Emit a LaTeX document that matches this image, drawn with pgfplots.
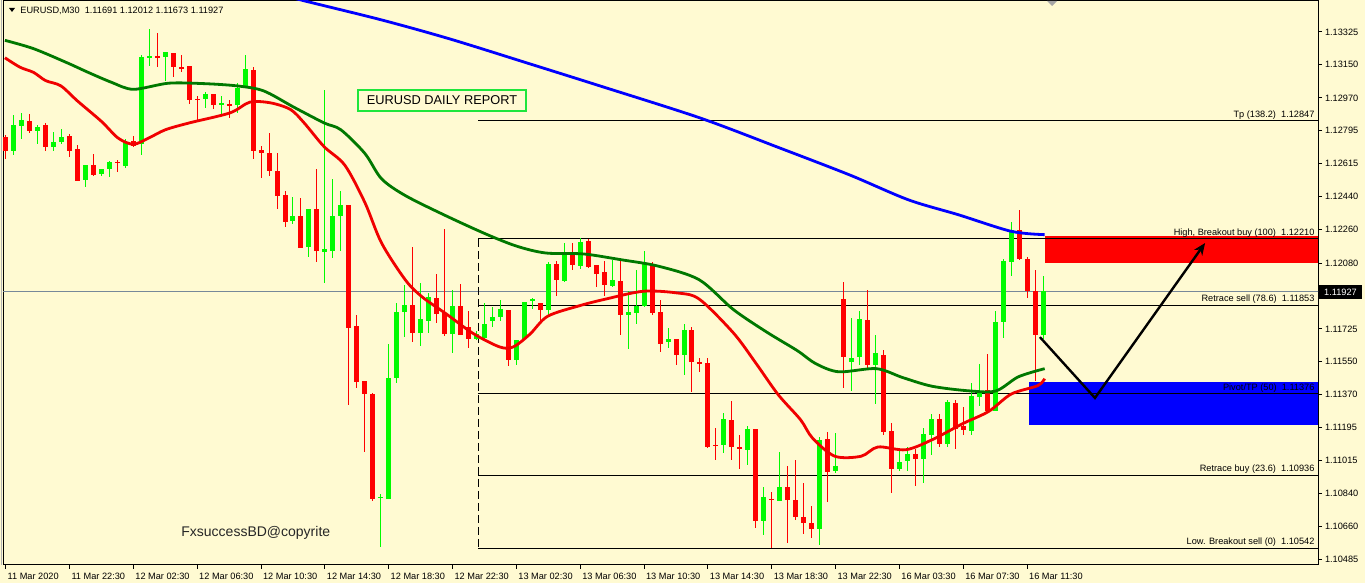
\documentclass[border=0pt]{standalone}
\usepackage{pgfplots}
\pgfplotsset{compat=1.18}
\usepackage{pgfplotstable}
\usepackage{fontspec}
\setmainfont{Liberation Sans}
\usetikzlibrary{arrows.meta}

\definecolor{bgcol}{RGB}{255,250,210}
\definecolor{upcol}{RGB}{0,250,0}
\definecolor{dncol}{RGB}{255,0,0}
\definecolor{magreen}{RGB}{0,120,0}
\definecolor{mared}{RGB}{240,0,0}
\definecolor{mablue}{RGB}{0,0,255}
\definecolor{pricegray}{RGB}{119,136,153}
\definecolor{boxgreen}{RGB}{30,230,60}

% bar index, open, high, low, close (EURUSD M30)
\pgfplotstableread{
i o h l c
1 1.12683 1.12880 1.12665 1.12822
2 1.12820 1.12889 1.12749 1.12849
4 1.12794 1.12826 1.12720 1.12816
6 1.12707 1.12789 1.12683 1.12731
7 1.12731 1.12803 1.12720 1.12758
10 1.12525 1.12607 1.12492 1.12607
12 1.12558 1.12589 1.12549 1.12589
13 1.12589 1.12629 1.12542 1.12625
15 1.12604 1.12749 1.12594 1.12734
17 1.12720 1.13202 1.12665 1.13193
18 1.13189 1.13341 1.13144 1.13195
20 1.13189 1.13215 1.13063 1.13215
25 1.12966 1.13002 1.12917 1.12993
27 1.12934 1.12980 1.12884 1.12942
29 1.12931 1.13053 1.12889 1.13025
30 1.13025 1.13202 1.13025 1.13126
36 1.12307 1.12438 1.12292 1.12334
38 1.12170 1.12374 1.12115 1.12374
40 1.12143 1.13013 1.11975 1.12155
41 1.12147 1.12534 1.12106 1.12334
42 1.12334 1.12470 1.12147 1.12392
47 1.10814 1.10835 1.10550 1.10822
48 1.10810 1.11647 1.10810 1.11464
49 1.11460 1.11864 1.11433 1.11818
50 1.11815 1.11961 1.11682 1.11855
52 1.11702 1.11974 1.11633 1.11778
53 1.11769 1.11919 1.11706 1.11897
56 1.11700 1.11933 1.11596 1.11848
59 1.11673 1.11715 1.11669 1.11697
60 1.11678 1.11864 1.11669 1.11751
61 1.11766 1.11842 1.11736 1.11788
62 1.11788 1.11882 1.11769 1.11830
64 1.11560 1.11669 1.11533 1.11669
65 1.11669 1.11870 1.11669 1.11870
66 1.11879 1.11891 1.11832 1.11885
68 1.11829 1.12089 1.11793 1.12077
70 1.11987 1.12190 1.11980 1.12134
72 1.12068 1.12215 1.12050 1.12193
76 1.11960 1.12098 1.11955 1.11990
78 1.11802 1.11928 1.11618 1.11816
79 1.11811 1.12044 1.11753 1.11850
80 1.11850 1.12147 1.11845 1.12077
83 1.11653 1.11730 1.11623 1.11671
85 1.11586 1.11751 1.11478 1.11721
90 1.11098 1.11272 1.11056 1.11241
93 1.11071 1.11200 1.10990 1.11187
95 1.10688 1.10877 1.10616 1.10818
97 1.10799 1.11063 1.10799 1.10873
102 1.10647 1.11142 1.10562 1.11128
104 1.10958 1.11164 1.10949 1.10988
106 1.11551 1.11784 1.11394 1.11572
107 1.11572 1.11825 1.11529 1.11780
109 1.11532 1.11694 1.11320 1.11595
112 1.10970 1.11079 1.10958 1.11008
113 1.11012 1.11092 1.10958 1.11053
115 1.11024 1.11191 1.10898 1.11160
116 1.11155 1.11270 1.11047 1.11241
118 1.11104 1.11344 1.11092 1.11335
121 1.11173 1.11437 1.11155 1.11362
122 1.11358 1.11538 1.11311 1.11380
124 1.11286 1.11820 1.11281 1.11766
125 1.11761 1.12102 1.11678 1.12093
126 1.12089 1.12299 1.12012 1.12260
130 1.11691 1.12012 1.11673 1.11927
}\bull

\pgfplotstableread{
i o h l c
0 1.12761 1.12771 1.12643 1.12683
3 1.12849 1.12884 1.12780 1.12794
5 1.12822 1.12835 1.12683 1.12707
8 1.12765 1.12776 1.12653 1.12683
9 1.12694 1.12716 1.12525 1.12525
11 1.12607 1.12667 1.12549 1.12552
14 1.12625 1.12638 1.12571 1.12620
16 1.12740 1.12765 1.12707 1.12712
19 1.13195 1.13322 1.13135 1.13189
21 1.13215 1.13215 1.13081 1.13135
22 1.13135 1.13202 1.13108 1.13130
23 1.13139 1.13139 1.12938 1.12960
24 1.12966 1.12980 1.12852 1.12960
26 1.12989 1.12993 1.12913 1.12934
28 1.12938 1.12956 1.12862 1.12931
31 1.13120 1.13135 1.12643 1.12685
32 1.12689 1.12712 1.12538 1.12676
33 1.12676 1.12780 1.12549 1.12576
34 1.12580 1.12674 1.12370 1.12443
35 1.12447 1.12470 1.12274 1.12303
37 1.12334 1.12431 1.12164 1.12164
39 1.12370 1.12589 1.12088 1.12143
43 1.12392 1.12392 1.11314 1.11733
44 1.11742 1.11801 1.11406 1.11442
45 1.11445 1.11445 1.11063 1.11378
46 1.11378 1.11378 1.10796 1.10810
51 1.11855 1.12166 1.11657 1.11702
54 1.11893 1.12020 1.11755 1.11806
55 1.11811 1.12261 1.11687 1.11697
57 1.11848 1.11970 1.11691 1.11691
58 1.11736 1.11824 1.11624 1.11669
63 1.11830 1.11830 1.11524 1.11560
67 1.11865 1.11865 1.11766 1.11829
69 1.12077 1.12093 1.11901 1.11987
71 1.12134 1.12188 1.12044 1.12068
73 1.12199 1.12211 1.12053 1.12062
74 1.12068 1.12068 1.11951 1.12023
75 1.12030 1.12089 1.11901 1.11960
77 1.11982 1.12089 1.11694 1.11798
81 1.12077 1.12086 1.11802 1.11811
82 1.11816 1.11882 1.11604 1.11645
84 1.11671 1.11671 1.11529 1.11586
86 1.11721 1.11734 1.11385 1.11547
87 1.11547 1.11568 1.11497 1.11534
88 1.11545 1.11568 1.11083 1.11092
89 1.11101 1.11191 1.11020 1.11096
91 1.11236 1.11335 1.11017 1.11089
92 1.11090 1.11155 1.10970 1.11078
94 1.11187 1.11187 1.10656 1.10694
96 1.10810 1.10850 1.10544 1.10805
98 1.10873 1.10985 1.10571 1.10801
99 1.10805 1.11017 1.10697 1.10710
100 1.10715 1.10895 1.10621 1.10679
101 1.10679 1.10774 1.10602 1.10647
103 1.11132 1.11169 1.10791 1.10954
105 1.11889 1.11976 1.11407 1.11574
108 1.11775 1.11933 1.11505 1.11532
110 1.11586 1.11610 1.11155 1.11173
111 1.11176 1.11222 1.10841 1.10970
114 1.11053 1.11079 1.10877 1.11024
117 1.11241 1.11270 1.11092 1.11108
119 1.11326 1.11344 1.11079 1.11186
120 1.11202 1.11304 1.11155 1.11180
123 1.11397 1.11594 1.11281 1.11286
127 1.12260 1.12367 1.12098 1.12103
128 1.12103 1.12113 1.11892 1.11928
129 1.11931 1.12041 1.11443 1.11692
}\bear

% moving averages (fast red, slow green, long blue)
\pgfplotstableread{
i p
-0.1 1.13186
1.8 1.13135
3.5 1.13107
5.0 1.13063
6.9 1.13035
9.0 1.12953
12.0 1.12843
14.1 1.12753
16.0 1.12720
17.9 1.12753
20.0 1.12798
23.0 1.12835
28.1 1.12889
30.6 1.12947
33.2 1.12943
35.7 1.12907
37.4 1.12835
39.9 1.12707
42.5 1.12607
45.0 1.12407
47.1 1.12188
50.1 1.11988
52.2 1.11897
55.2 1.11806
58.6 1.11700
61.9 1.11628
63.6 1.11628
65.7 1.11697
67.9 1.11793
71.9 1.11850
75.2 1.11886
79.9 1.11928
84.1 1.11919
86.9 1.11886
91.2 1.11703
94.0 1.11541
96.8 1.11371
99.6 1.11236
101.1 1.11137
103.9 1.11039
107.2 1.11039
109.3 1.11089
112.8 1.11074
116.1 1.11128
119.9 1.11214
123.2 1.11281
126.0 1.11374
129.3 1.11419
130.2 1.11457
}\mafast

\pgfplotstableread{
i p
-0.1 1.13280
3.5 1.13235
7.8 1.13157
10.3 1.13108
13.3 1.13053
16.0 1.13016
20.4 1.13049
24.7 1.13047
28.9 1.13035
32.3 1.13008
36.1 1.12920
39.9 1.12835
42.0 1.12798
45.0 1.12671
47.1 1.12534
50.1 1.12443
55.2 1.12334
60.3 1.12234
64.1 1.12170
67.7 1.12134
72.4 1.12129
77.1 1.12098
81.8 1.12063
86.9 1.11990
91.2 1.11829
95.4 1.11707
99.2 1.11608
101.5 1.11538
104.4 1.11494
109.1 1.11511
112.4 1.11463
116.1 1.11416
120.8 1.11391
124.1 1.11391
126.9 1.11467
130.2 1.11511
}\maslow

\pgfplotstableread{
i p
35.6 1.13514
37.5 1.13492
47.1 1.13390
55.7 1.13287
65.7 1.13153
74.5 1.13034
87.0 1.12862
97.0 1.12700
105.8 1.12554
113.1 1.12421
119.4 1.12340
126.0 1.12251
130.2 1.12233
}\malong

\newcommand{\mtfont}{\fontsize{4.6}{5.5}\selectfont}
\pgfplotsset{candle/.style={only marks, mark=*, mark size=0pt,
  mark options={draw=none, fill=none},
  error bars/.cd, y dir=both, y explicit, error mark=none}}

\begin{document}
\begin{tikzpicture}
\fill[bgcol] (0,0) rectangle (682.5pt,291.5pt);
\begin{axis}[
  at={(1.5pt,9pt)}, anchor=south west,
  scale only axis, width=657.5pt, height=282pt,
  xmin=-0.34, xmax=164.45, ymin=1.10453, ymax=1.13492,
  axis line style={black, line width=0.5pt},
  clip mode=individual,
  xtick={0,8,...,128},
  xticklabels={11 Mar 2020,11 Mar 22:30,12 Mar 02:30,12 Mar 06:30,12 Mar 10:30,12 Mar 14:30,12 Mar 18:30,12 Mar 22:30,13 Mar 02:30,13 Mar 06:30,13 Mar 10:30,13 Mar 14:30,13 Mar 18:30,13 Mar 22:30,16 Mar 03:30,16 Mar 07:30,16 Mar 11:30},
  ytick={1.13325,1.13150,1.12970,1.12795,1.12615,1.12440,1.12260,1.12080,1.11725,1.11550,1.11370,1.11195,1.11015,1.10840,1.10660,1.10485},
  yticklabels={1.13325,1.13150,1.12970,1.12795,1.12615,1.12440,1.12260,1.12080,1.11725,1.11550,1.11370,1.11195,1.11015,1.10840,1.10660,1.10485},
  xtick pos=left, ytick pos=right, yticklabel pos=right,
  tick align=outside, major tick length=2pt,
  tick style={black, line width=0.5pt},
  xticklabel style={font=\mtfont, anchor=north west, inner sep=0.5pt, xshift=0.3pt, yshift=-1.2pt},
  yticklabel style={font=\mtfont, anchor=west, inner sep=0.5pt, xshift=0.8pt},
]
% zones
\fill[dncol] (axis cs:130.2,1.12225) rectangle (axis cs:164.45,1.12080);
\fill[mablue] (axis cs:128.2,1.11441) rectangle (axis cs:164.45,1.11207);

% current price line
\addplot[pricegray, line width=0.5pt] coordinates {(-1,1.11927) (170,1.11927)};

% fibonacci levels
\addplot[black, line width=0.5pt] coordinates {(59.2,1.12847) (170,1.12847)};
\addplot[black, line width=0.5pt] coordinates {(59.2,1.12210) (170,1.12210)};
\addplot[black, line width=0.5pt] coordinates {(59.2,1.11853) (170,1.11853)};
\addplot[black, line width=0.5pt] coordinates {(59.2,1.11376) (170,1.11376)};
\addplot[black, line width=0.5pt] coordinates {(59.2,1.10936) (170,1.10936)};
\addplot[black, line width=0.5pt] coordinates {(59.2,1.10542) (170,1.10542)};
\addplot[black, line width=0.6pt, dash pattern=on 4pt off 2pt] coordinates {(59.2,1.12210) (59.2,1.10542)};

% wicks
\addplot[candle, error bar style={draw=upcol, line width=0.5pt}]
  table[x=i, y expr=(\thisrow{h}+\thisrow{l})/2, y error expr=(\thisrow{h}-\thisrow{l})/2] {\bull};
\addplot[candle, error bar style={draw=dncol, line width=0.5pt}]
  table[x=i, y expr=(\thisrow{h}+\thisrow{l})/2, y error expr=(\thisrow{h}-\thisrow{l})/2] {\bear};
% bodies
\addplot[candle, error bar style={draw=upcol, line width=2.5pt}]
  table[x=i, y expr=(\thisrow{o}+\thisrow{c})/2, y error expr={max(abs(\thisrow{o}-\thisrow{c})/2,0.000012)}] {\bull};
\addplot[candle, error bar style={draw=dncol, line width=2.5pt}]
  table[x=i, y expr=(\thisrow{o}+\thisrow{c})/2, y error expr={max(abs(\thisrow{o}-\thisrow{c})/2,0.000012)}] {\bear};

% moving averages
\addplot[mablue, line width=1.4pt, smooth] table[x=i, y=p] {\malong};
\addplot[magreen, line width=1.4pt, smooth] table[x=i, y=p] {\maslow};
\addplot[mared, line width=1.4pt, smooth] table[x=i, y=p] {\mafast};

% projected path
\addplot[black, line width=1.2pt, -{Stealth[length=6pt, width=5pt]}]
  coordinates {(129.6,1.11681) (136.5,1.11353) (150.3,1.12188)};

% level labels
\begin{scope}[every node/.style={font=\mtfont, anchor=south east, inner sep=0.6pt}]
\node at (axis cs:164.2,1.12847) {Tp (138.2)\ \ 1.12847};
\node at (axis cs:164.2,1.12210) {High, Breakout buy (100)\ \ 1.12210};
\node at (axis cs:164.2,1.11853) {Retrace sell (78.6)\ \ 1.11853};
\node at (axis cs:164.2,1.11376) {Pivot/TP (50)\ \ 1.11376};
\node at (axis cs:164.2,1.10936) {Retrace buy (23.6)\ \ 1.10936};
\node at (axis cs:164.2,1.10542) {Low. Breakout sell (0)\ \ 1.10542};
\end{scope}
\end{axis}

% overlays in screen pixels
\begin{scope}[x=0.5pt, y=-0.5pt, yshift=291.5pt]
\draw[gray!60, line width=0.5pt] (1,0) -- (1,565);
\fill[black] (9,8) -- (15,8) -- (12,12) -- cycle;
\node[anchor=west, inner sep=0, font=\mtfont] at (20,10.5) {EURUSD,M30\ \ 1.11691 1.12012 1.11673 1.11927};
\fill[gray!70] (1047,1) -- (1057,1) -- (1052,6) -- cycle;
\draw[boxgreen, line width=1.3pt] (358,90) rectangle (526,111);
\node[font=\fontsize{6.4}{7.5}\selectfont, inner sep=0] at (442,100.5) {EURUSD DAILY REPORT};
\node[anchor=west, inner sep=0, font=\fontsize{7}{8}\selectfont, text=black!85] at (181,533) {FxsuccessBD@copyrite};
\fill[black] (1319,285) rectangle (1362,299);
\node[text=white, font=\mtfont, inner sep=0] at (1340.5,292) {1.11927};
\end{scope}
\pgfresetboundingbox
\useasboundingbox (0,0) rectangle (682.5pt,291.5pt);
\end{tikzpicture}
\end{document}
